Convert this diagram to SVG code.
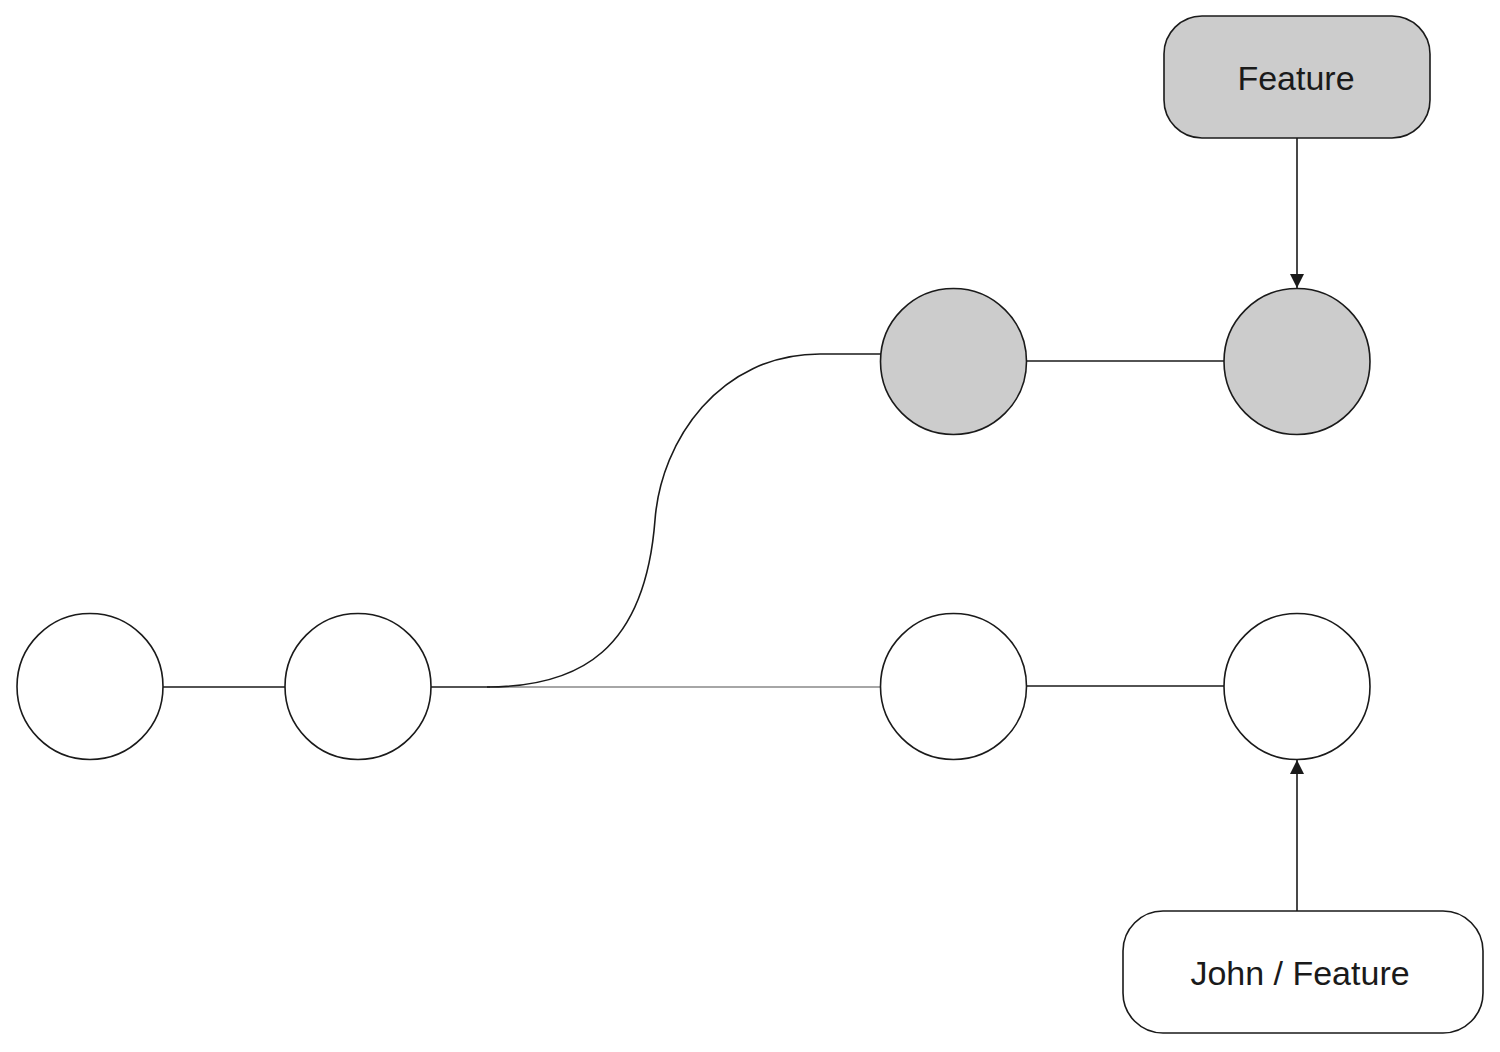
<svg xmlns="http://www.w3.org/2000/svg" width="1500" height="1052" viewBox="0 0 1500 1052">
<defs>
<style>
.c{stroke:#1a1a1a;stroke-width:1.6;}
.w{fill:#ffffff;}
.g{fill:#cccccc;}
.ln{stroke:#1a1a1a;stroke-width:1.6;fill:none;}
.lg{stroke:#888888;stroke-width:1.6;fill:none;}
.t{font-family:"Liberation Sans",Arial,sans-serif;font-size:34px;fill:#1a1a1a;text-anchor:middle;}
</style>
<marker id="ah" viewBox="0 0 14 14" refX="14" refY="7" markerWidth="14" markerHeight="14" markerUnits="userSpaceOnUse" orient="auto">
<path d="M0,0 L14,7 L0,14 Z" fill="#1a1a1a"/>
</marker>
</defs>
<rect width="1500" height="1052" fill="#ffffff"/>
<g id="connectors">
<line class="ln" x1="163" y1="687" x2="285" y2="687"/>
<line class="ln" x1="431" y1="687" x2="490" y2="687"/>
<line class="lg" x1="490" y1="687" x2="880" y2="687"/>
<path class="ln" d="M487,687 C580,687 645,650 655,520 C661,440 720,354 820,354 L881,354"/>
<line class="ln" x1="1027" y1="361" x2="1224" y2="361"/>
<line class="ln" x1="1027" y1="686" x2="1224" y2="686"/>
<line class="ln" x1="1297" y1="138" x2="1297" y2="288" marker-end="url(#ah)"/>
<line class="ln" x1="1297" y1="911" x2="1297" y2="760" marker-end="url(#ah)"/>
</g>
<g id="c1"><circle class="c w" cx="90" cy="686.5" r="73"/></g>
<g id="c2"><circle class="c w" cx="358" cy="686.5" r="73"/></g>
<g id="c3"><circle class="c w" cx="953.5" cy="686.5" r="73"/></g>
<g id="c4"><circle class="c w" cx="1297" cy="686.5" r="73"/></g>
<g id="c5"><circle class="c g" cx="953.5" cy="361.5" r="73"/></g>
<g id="c6"><circle class="c g" cx="1297" cy="361.5" r="73"/></g>
<g id="feature">
<rect class="c g" x="1164" y="16" width="266" height="122" rx="38" ry="38"/>
<text class="t" x="1296" y="90">Feature</text>
</g>
<g id="john">
<rect class="c w" x="1123" y="911" width="360" height="122" rx="40" ry="40"/>
<text class="t" x="1300" y="985">John / Feature</text>
</g>
</svg>
